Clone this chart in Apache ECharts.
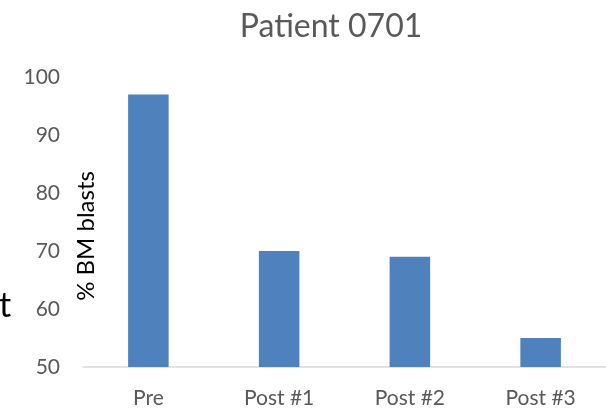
<!DOCTYPE html>
<html>
<head>
<meta charset="utf-8">
<script src="https://cdn.jsdelivr.net/npm/echarts@6/dist/echarts.min.js"></script>
<style>
  html, body { margin: 0; padding: 0; background: #fff; }
  #chart { width: 606px; height: 409px; }
</style>
</head>
<body>
<div id="chart"></div>
<script>
// Bone-marrow blast percentage per time point
const categories = ['Pre', 'Post #1', 'Post #2', 'Post #3'];
const blastValues = [97, 70, 69, 55];
const yTicks = { min: 50, max: 100, interval: 10 };

const FONT = 'Lato, "Noto Sans", sans-serif';

const chart = echarts.init(document.getElementById('chart'), null, { renderer: 'canvas' });
chart.setOption({
  animation: false,
  backgroundColor: '#ffffff',
  title: {
    text: 'Patient 0701',
    left: 326,
    textAlign: 'center',
    top: 6,
    textStyle: { fontFamily: FONT, fontSize: 32, fontWeight: 'normal', color: '#595959' }
  },
  grid: { left: 83, right: -7, top: 77, bottom: 41, containLabel: false },
  xAxis: {
    type: 'category',
    data: categories,
    axisLine: { lineStyle: { color: '#d9d9d9', width: 1.5 } },
    axisTick: { show: false },
    axisLabel: { fontFamily: FONT, fontSize: 21, color: '#595959', margin: 21 }
  },
  yAxis: {
    type: 'value',
    min: yTicks.min,
    max: yTicks.max,
    interval: yTicks.interval,
    splitLine: { show: false },
    axisLine: { show: false },
    axisTick: { show: false },
    axisLabel: { fontFamily: FONT, fontSize: 21, color: '#595959', margin: 23 }
  },
  graphic: [
    {
      type: 'text',
      x: 86, y: 236,
      rotation: Math.PI / 2,
      style: {
        text: '% BM blasts',
        fontFamily: FONT, fontSize: 24, fill: '#000000',
        textAlign: 'center', textVerticalAlign: 'middle'
      }
    },
    {
      type: 'text',
      x: -1, y: 306,
      style: {
        text: 't',
        fontFamily: FONT, fontSize: 34, fill: '#000000',
        textAlign: 'left', textVerticalAlign: 'middle'
      }
    }
  ],
  series: [{
    type: 'bar',
    data: blastValues,
    barWidth: '31%',
    itemStyle: { color: '#4f81bd' }
  }]
});
</script>
</body>
</html>
